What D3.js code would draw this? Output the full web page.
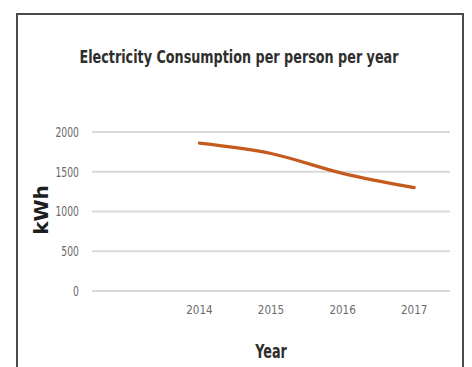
<!DOCTYPE html>
<html>
<head>
<meta charset="utf-8">
<script src="https://cdn.jsdelivr.net/npm/d3@7"></script>
<style>
  html, body { margin: 0; padding: 0; background: #fff; }
  svg { display: block; }
</style>
</head>
<body>
<svg id="chart" width="472" height="367"></svg>
<script>
// Annual electricity use per person (kWh)
const years = ["2014", "2015", "2016", "2017"];
const consumption = [1860, 1730, 1480, 1300];
const yTicks = [0, 500, 1000, 1500, 2000];

const svg = d3.select("#chart");
const W = 472, H = 367;
const font = "'DejaVu Sans', 'Liberation Sans', sans-serif";

// Chart frame
svg.append("rect")
  .attr("x", 17).attr("y", 14)
  .attr("width", 446).attr("height", H)
  .attr("fill", "#fff")
  .attr("stroke", "#4a4a4a")
  .attr("stroke-width", 2);

const plot = { left: 92, right: 450, top: 132, bottom: 291 };
const bandW = (plot.right - plot.left) / 5;

// Years occupy the last four of five equal slots on the category axis
const x = d3.scaleBand()
  .domain(years)
  .range([plot.left + bandW, plot.right]);

const y = d3.scaleLinear()
  .domain([0, 2000])
  .range([plot.bottom, plot.top]);

// Horizontal gridlines
svg.append("g")
  .selectAll("line")
  .data(yTicks)
  .join("line")
  .attr("x1", plot.left).attr("x2", plot.right)
  .attr("y1", d => y(d)).attr("y2", d => y(d))
  .attr("stroke", "#d9d9d9")
  .attr("stroke-width", 2);

// Y axis tick labels (condensed by a horizontal squeeze)
const yAxis = d3.axisLeft(y).tickValues(yTicks).tickFormat(d3.format("d")).tickSize(0).tickPadding(0);
const gy = svg.append("g")
  .attr("transform", `translate(${plot.left - 13},0)`)
  .call(yAxis);
gy.select(".domain").remove();
gy.selectAll("text")
  .attr("font-family", font)
  .attr("font-size", 14)
  .attr("fill", "#6a6a6a")
  .attr("transform", "scale(0.66,1)");

// X axis tick labels
const xAxis = d3.axisBottom(x).tickSize(0).tickPadding(0);
const gx = svg.append("g")
  .attr("transform", `translate(0,${plot.bottom + 14})`)
  .call(xAxis);
gx.select(".domain").remove();
gx.selectAll("text")
  .attr("font-family", font)
  .attr("font-size", 13)
  .attr("fill", "#6a6a6a")
  .attr("transform", "scale(0.8,1)");

// Consumption line
const line = d3.line()
  .x((d, i) => x(years[i]) + x.bandwidth() / 2)
  .y(d => y(d))
  .curve(d3.curveMonotoneX);

svg.append("path")
  .datum(consumption)
  .attr("d", line)
  .attr("fill", "none")
  .attr("stroke", "#c55a1e")
  .attr("stroke-width", 3.2)
  .attr("stroke-linecap", "round");

// Titles
svg.append("text")
  .attr("transform", "translate(239,63) scale(0.71,1)")
  .attr("text-anchor", "middle")
  .attr("font-family", font)
  .attr("font-weight", "bold")
  .attr("font-size", 18)
  .attr("fill", "#2e2e2e")
  .text("Electricity Consumption per person per year");

svg.append("text")
  .attr("transform", "translate(48,210) rotate(-90)")
  .attr("text-anchor", "middle")
  .attr("font-family", font)
  .attr("font-weight", "bold")
  .attr("font-size", 20)
  .attr("fill", "#1e1e1e")
  .text("kWh");

svg.append("text")
  .attr("transform", "translate(271,358) scale(0.64,1)")
  .attr("text-anchor", "middle")
  .attr("font-family", font)
  .attr("font-weight", "bold")
  .attr("font-size", 20)
  .attr("fill", "#2e2e2e")
  .text("Year");
</script>
</body>
</html>
